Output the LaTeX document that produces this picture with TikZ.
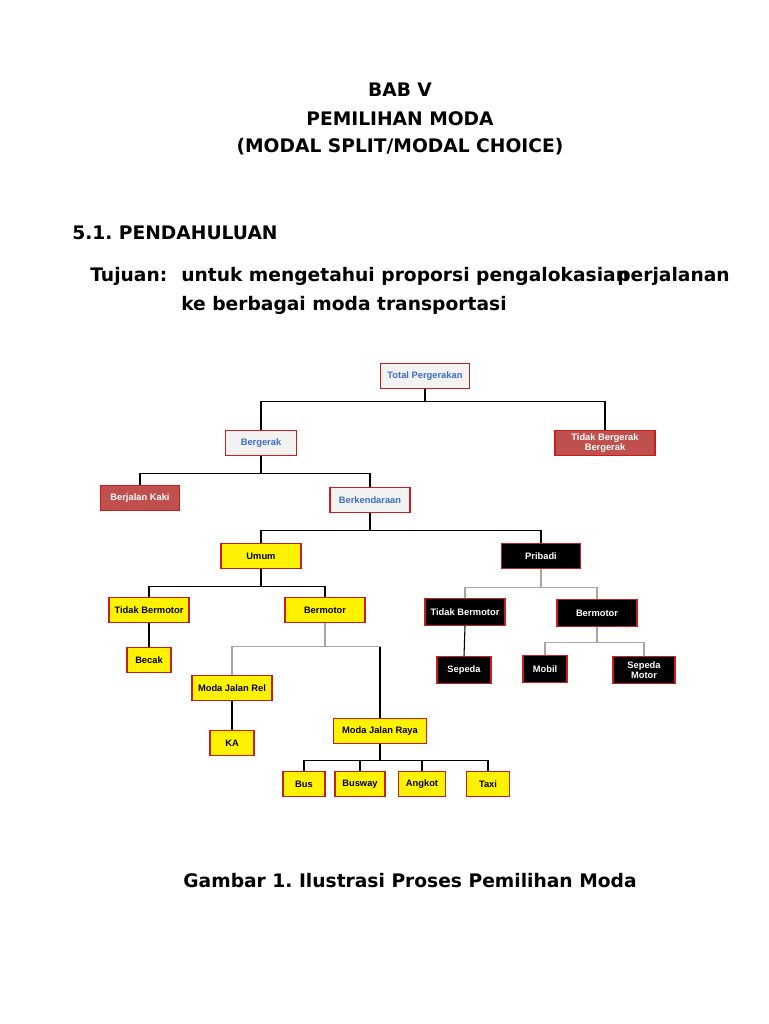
\documentclass[tikz,border=0pt]{standalone}
\usepackage{fontspec}
\setmainfont{DejaVu Sans}
\newfontfamily\boxfont{Liberation Sans}
\usepackage{tikz}

\begin{document}
\begin{tikzpicture}[x=0.75pt,y=0.75pt,yscale=-1,xscale=1,
  bx/.style={draw={rgb,255:red,200;green,30;blue,30},line width=0.8pt,inner sep=0pt,
    font=\boxfont\bfseries\fontsize{7}{8}\selectfont,align=center,minimum height=18.5pt},
  grey/.style={bx,fill={rgb,255:red,242;green,242;blue,242},text={rgb,255:red,60;green,110;blue,200}},
  red/.style={bx,fill={rgb,255:red,192;green,80;blue,77},text=white},
  yel/.style={bx,fill=yellow,text=black},
  blk/.style={bx,fill=black,text=white},
  ln/.style={draw=black,line width=0.8pt},
  lg/.style={draw=black!35,line width=0.8pt}]
\useasboundingbox (0,0) rectangle (768,1024);

% Text Node
\draw (400,90) node [font=\bfseries\fontsize{14}{16}\selectfont] {BAB V};
\draw (400,119) node [font=\bfseries\fontsize{14}{16}\selectfont] {PEMILIHAN MODA};
\draw (400,147) node [font=\bfseries\fontsize{14}{16}\selectfont] {(MODAL SPLIT/MODAL CHOICE)};
\draw (72,233) node [anchor=west,inner sep=0pt,font=\bfseries\fontsize{14}{16}\selectfont] {5.1.\ PENDAHULUAN};
\draw (90,276) node [anchor=west,inner sep=0pt,font=\bfseries\fontsize{14}{16}\selectfont] {Tujuan:};
\draw (181,276) node [anchor=west,inner sep=0pt,font=\bfseries\fontsize{14}{16}\selectfont] {untuk mengetahui proporsi pengalokasian};
\draw (730,276) node [anchor=east,inner sep=0pt,font=\bfseries\fontsize{14}{16}\selectfont] {perjalanan};
\draw (181,305) node [anchor=west,inner sep=0pt,font=\bfseries\fontsize{14}{16}\selectfont] {ke berbagai moda transportasi};
\draw (410,881) node [font=\bfseries\fontsize{14}{16}\selectfont] {Gambar 1.\ Ilustrasi Proses Pemilihan Moda};

% Boxes
\node [grey,minimum width=66.75pt] (tot) at (425,376) {Total Pergerakan};
\node [grey,minimum width=53pt] (brg) at (261,443) {Bergerak};
\node [red,minimum width=75pt] (tdk) at (605,443) {Tidak Bergerak\\Bergerak};
\node [red,minimum width=59pt] (jlk) at (140,498) {Berjalan Kaki};
\node [grey,minimum width=60pt] (knd) at (370,500) {Berkendaraan};
\node [yel,minimum width=60pt] (umm) at (261,556) {Umum};
\node [blk,minimum width=59pt] (prb) at (541,556) {Pribadi};
\node [yel,minimum width=60pt] (utb) at (149,610) {Tidak Bermotor};
\node [yel,minimum width=60pt] (ubm) at (325,610) {Bermotor};
\node [blk,minimum width=60pt,minimum height=20pt] (ptb) at (465,612) {Tidak Bermotor};
\node [blk,minimum width=60pt,minimum height=20pt] (pbm) at (597,613) {Bermotor};
\node [yel,minimum width=33pt] (bck) at (149,660) {Becak};
\node [yel,minimum width=60pt] (rel) at (232,688) {Moda Jalan Rel};
\node [yel,minimum width=33pt] (ka) at (232,743) {KA};
\node [yel,minimum width=70pt] (ray) at (380,731) {Moda Jalan Raya};
\node [yel,minimum width=31.5pt] (bus) at (304,784) {Bus};
\node [yel,minimum width=37.5pt] (bsw) at (360,784) {Busway};
\node [yel,minimum width=35pt] (ang) at (422,784) {Angkot};
\node [yel,minimum width=32pt] (tax) at (488,784) {Taxi};
\node [blk,minimum width=40.5pt,minimum height=20pt] (spd) at (464,670) {Sepeda};
\node [blk,minimum width=33pt,minimum height=20pt] (mbl) at (545,669) {Mobil};
\node [blk,minimum width=46.5pt,minimum height=20pt] (spm) at (644,670) {Sepeda\\Motor};

% Connectors
\draw [ln] (tot.south) -- ++(0,13) -| (brg.north);
\draw [ln] (tot.south) -- ++(0,13) -| (tdk.north);
\draw [ln] (brg.south) -- ++(0,18) -| (jlk.north);
\draw [ln] (brg.south) -- ++(0,18) -| (knd.north);
\draw [ln] (knd.south) -- ++(0,18) -| (umm.north);
\draw [ln] (knd.south) -- ++(0,18) -| (prb.north);
\draw [ln] (umm.south) -- ++(0,18) -| (utb.north);
\draw [ln] (umm.south) -- ++(0,18) -| (ubm.north);
\draw [lg] (prb.south) -- ++(0,19) -| (ptb.north);
\draw [lg] (prb.south) -- ++(0,19) -| (pbm.north);
\draw [ln] (utb.south) -- (bck.north);
\draw [lg] (ubm.south) -- ++(0,24) -| (rel.north);
\draw [lg] (ubm.south) -- ++(0,24) -| (ray.north);
\draw [ln] (ubm.south) ++(55,24) -- (ray.north);
\draw [ln] (rel.south) -- (ka.north);
\draw [ln] (ray.south) -- ++(0,17) -| (bus.north);
\draw [ln] (ray.south) -- ++(0,17) -| (bsw.north);
\draw [ln] (ray.south) -- ++(0,17) -| (ang.north);
\draw [ln] (ray.south) -- ++(0,17) -| (tax.north);
\draw [ln] (ptb.south) -- (spd.north);
\draw [lg] (pbm.south) -- ++(0,16) -| (mbl.north);
\draw [lg] (pbm.south) -- ++(0,16) -| (spm.north);
\end{tikzpicture}
\end{document}
